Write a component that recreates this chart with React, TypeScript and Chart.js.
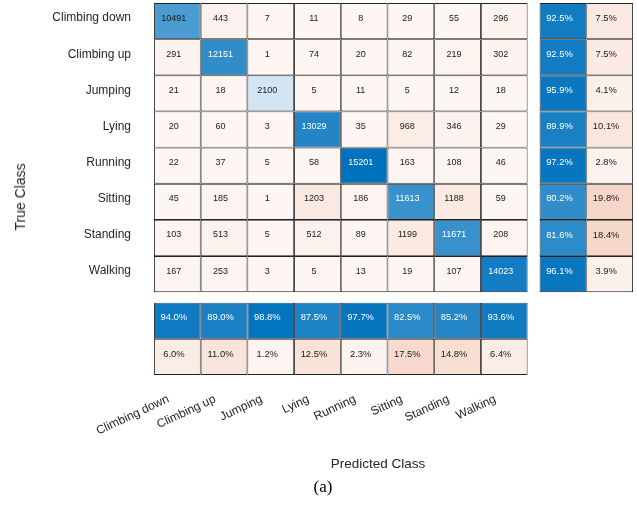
import React, { useEffect, useRef } from "react";
import { Chart, registerables } from "chart.js";

Chart.register(...registerables);

// ---------- data ----------
const classes = ["Climbing down", "Climbing up", "Jumping", "Lying", "Running", "Sitting", "Standing", "Walking"];

const rowClimbingDown = [10491, 443, 7, 11, 8, 29, 55, 296];
const rowClimbingUp = [291, 12151, 1, 74, 20, 82, 219, 302];
const rowJumping = [21, 18, 2100, 5, 11, 5, 12, 18];
const rowLying = [20, 60, 3, 13029, 35, 968, 346, 29];
const rowRunning = [22, 37, 5, 58, 15201, 163, 108, 46];
const rowSitting = [45, 185, 1, 1203, 186, 11613, 1188, 59];
const rowStanding = [103, 513, 5, 512, 89, 1199, 11671, 208];
const rowWalking = [167, 253, 3, 5, 13, 19, 107, 14023];

const counts = [rowClimbingDown, rowClimbingUp, rowJumping, rowLying, rowRunning, rowSitting, rowStanding, rowWalking];

// row summary (true-class recall / miss rate), percent
const rowCorrectPct = [92.5, 92.5, 95.9, 89.9, 97.2, 80.2, 81.6, 96.1];
const rowErrorPct = [7.5, 7.5, 4.1, 10.1, 2.8, 19.8, 18.4, 3.9];
// column summary (precision / false discovery rate), percent
const colCorrectPct = [94.0, 89.0, 98.8, 87.5, 97.7, 82.5, 85.2, 93.6];
const colErrorPct = [6.0, 11.0, 1.2, 12.5, 2.3, 17.5, 14.8, 6.4];

// ---------- styling helpers ----------
const FONT = "'Liberation Sans', Arial, Helvetica, sans-serif";
const BLUE = [0, 114, 189];
const ORANGE = [217, 83, 25];
const TEXT_DARK = "#262626";
const GAP_X = 0.257;
const GAP_Y = 0.29;

function shade(frac: number) {
  return frac <= 0 ? 0 : 0.05 + 0.95 * Math.min(1, frac);
}
function mix(c: number[], f: number) {
  const ch = c.map((v) => Math.round(255 - f * (255 - v)));
  return `rgb(${ch[0]},${ch[1]},${ch[2]})`;
}

function buildDatasets() {
  const n = classes.length;
  const maxCount = Math.max(...counts.flat());

  const main: any = { label: "counts", data: [], backgroundColor: [], cellLabels: [], cellText: [], cellFont: 9 };
  counts.forEach((row, r) =>
    row.forEach((v, c) => {
      const f = shade(v / maxCount);
      main.data.push({ x: c + 0.5, y: [r, r + 1] });
      main.backgroundColor.push(mix(r === c ? BLUE : ORANGE, f));
      main.cellLabels.push(String(v));
      main.cellText.push(r === c && f > 0.74 ? "#ffffff" : "#1a1a1a");
    })
  );

  const rowSum: any = { label: "row summary", data: [], backgroundColor: [], cellLabels: [], cellText: [], cellFont: 9.4 };
  classes.forEach((_, r) => {
    const good = shade(rowCorrectPct[r] / 100);
    const bad = shade(rowErrorPct[r] / 100);
    rowSum.data.push({ x: n + GAP_X + 0.5, y: [r, r + 1] });
    rowSum.backgroundColor.push(mix(BLUE, good));
    rowSum.cellLabels.push(rowCorrectPct[r].toFixed(1) + "%");
    rowSum.cellText.push(good > 0.74 ? "#ffffff" : "#1a1a1a");
    rowSum.data.push({ x: n + GAP_X + 1.5, y: [r, r + 1] });
    rowSum.backgroundColor.push(mix(ORANGE, bad));
    rowSum.cellLabels.push(rowErrorPct[r].toFixed(1) + "%");
    rowSum.cellText.push("#1a1a1a");
  });

  const colSum: any = { label: "column summary", data: [], backgroundColor: [], cellLabels: [], cellText: [], cellFont: 9.4 };
  classes.forEach((_, c) => {
    const good = shade(colCorrectPct[c] / 100);
    const bad = shade(colErrorPct[c] / 100);
    colSum.data.push({ x: c + 0.5, y: [n + GAP_Y, n + GAP_Y + 1] });
    colSum.backgroundColor.push(mix(BLUE, good));
    colSum.cellLabels.push(colCorrectPct[c].toFixed(1) + "%");
    colSum.cellText.push(good > 0.74 ? "#ffffff" : "#1a1a1a");
    colSum.data.push({ x: c + 0.5, y: [n + GAP_Y + 1, n + GAP_Y + 2] });
    colSum.backgroundColor.push(mix(ORANGE, bad));
    colSum.cellLabels.push(colErrorPct[c].toFixed(1) + "%");
    colSum.cellText.push("#1a1a1a");
  });

  const common = {
    barPercentage: 1,
    categoryPercentage: 1,
    grouped: false,
    borderWidth: 0.9,
    borderColor: "#222222",
    borderSkipped: false,
    inflateAmount: 0,
  };
  return [main, rowSum, colSum].map((d) => ({ ...d, ...common }));
}

const cellTextPlugin = {
  id: "cellText",
  afterDatasetsDraw(chart: any) {
    const ctx = chart.ctx;
    ctx.save();
    ctx.textAlign = "center";
    ctx.textBaseline = "middle";
    chart.data.datasets.forEach((ds: any, di: number) => {
      const meta = chart.getDatasetMeta(di);
      ctx.font = `${ds.cellFont}px ${FONT}`;
      meta.data.forEach((el: any, i: number) => {
        const p = el.getCenterPoint();
        ctx.fillStyle = ds.cellText[i];
        ctx.fillText(ds.cellLabels[i], p.x - 3.5, p.y - 3);
      });
    });
    ctx.restore();
  },
};

function ConfusionChart() {
  const ref = useRef<HTMLCanvasElement | null>(null);

  useEffect(() => {
    document.body.style.margin = "0";
    const n = classes.length;
    const chart = new Chart(ref.current as HTMLCanvasElement, {
      type: "bar",
      data: { datasets: buildDatasets() as any },
      plugins: [cellTextPlugin],
      options: {
        animation: false,
        responsive: false,
        layout: { padding: { top: 3, right: 4, left: 0, bottom: 0 } },
        plugins: { legend: { display: false }, tooltip: { enabled: false } },
        scales: {
          x: {
            type: "linear",
            min: 0,
            max: n + GAP_X + 2,
            offset: false,
            grid: { display: false, drawTicks: false },
            border: { display: false },
            ticks: {
              autoSkip: false,
              minRotation: 25,
              maxRotation: 25,
              padding: 17,
              labelOffset: -9,
              color: TEXT_DARK,
              font: { family: FONT, size: 12 },
              callback: (_v: any, i: number) => classes[i],
            },
            afterBuildTicks: (s: any) => {
              s.ticks = classes.map((_, i) => ({ value: i + 0.5 }));
            },
            afterFit: (s: any) => {
              s.height = 132;
              s.paddingLeft = 0;
              s.paddingRight = 0;
            },
          },
          y: {
            type: "linear",
            reverse: true,
            min: 0,
            max: n + GAP_Y + 2,
            grid: { display: false, drawTicks: false },
            border: { display: false },
            ticks: {
              autoSkip: false,
              padding: 23,
              labelOffset: -3,
              color: TEXT_DARK,
              font: { family: FONT, size: 12 },
              callback: (_v: any, i: number) => classes[i],
            },
            afterBuildTicks: (s: any) => {
              s.ticks = classes.map((_, i) => ({ value: i + 0.5 }));
            },
            afterFit: (s: any) => {
              s.width = 154;
              s.paddingTop = 0;
              s.paddingBottom = 0;
            },
          },
        },
      } as any,
    });
    return () => chart.destroy();
  }, []);

  const label = (text: string, cx: number, cy: number, font: string, color: string) => (
    <div
      style={{
        position: "absolute",
        left: cx,
        top: cy,
        transform: "translate(-50%, -50%)",
        whiteSpace: "nowrap",
        lineHeight: 1,
        font,
        color,
      }}
    >
      {text}
    </div>
  );

  return (
    <div style={{ position: "relative", width: 637, height: 507, overflow: "hidden", background: "#fff" }}>
      <canvas ref={ref} width={637} height={507} style={{ display: "block" }} />
      <div
        style={{
          position: "absolute",
          left: 20,
          top: 197,
          transform: "translate(-50%, -50%) rotate(-90deg)",
          whiteSpace: "nowrap",
          lineHeight: 1,
          font: `14px ${FONT}`,
          color: TEXT_DARK,
        }}
      >
        True Class
      </div>
      {label("Predicted Class", 378, 463, `13.5px ${FONT}`, TEXT_DARK)}
      {label("(a)", 323, 487, "17px 'Liberation Serif', 'Times New Roman', serif", "#000")}
    </div>
  );
}

export default function App() {
  return <ConfusionChart />;
}
